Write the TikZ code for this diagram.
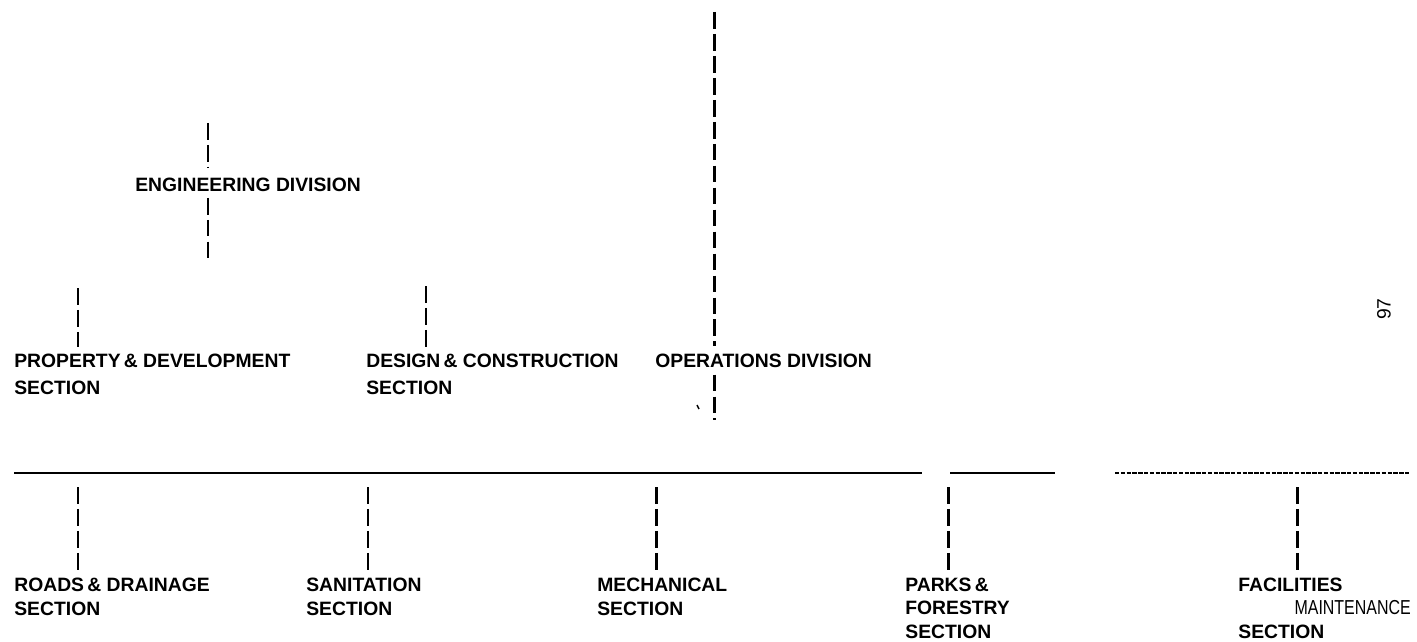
\documentclass[tikz,border=0pt]{standalone}
\usepackage{fontspec}
\usepackage{graphicx}
\setmainfont{Liberation Sans}
\begin{document}
\begin{tikzpicture}[x=0.02cm,y=-0.02cm,
  lbl/.style={inner sep=0pt, anchor=base west, font=\fontsize{11}{15.9}\selectfont\bfseries},
  lbls/.style={inner sep=0pt, anchor=base west, font=\fontsize{11}{14.2}\selectfont\bfseries},
  lblp/.style={inner sep=0pt, anchor=base west, font=\fontsize{11}{13.4}\selectfont\bfseries},
  conn/.style={line width=1.7pt, dash pattern=on 9.5pt off 3pt},
  hline/.style={line width=1pt},
  hdash/.style={line width=0.9pt, dash pattern=on 2.5pt off 0.8pt},
  pagenum/.style={inner sep=0pt, rotate=90, font=\fontsize{11}{13}\selectfont}]
\useasboundingbox (0,0) rectangle (1417,642);

% division labels
\node[lbl] (eng) at (135,192) {ENGINEERING DIVISION};
\node[lbl] (ops) at (655,367) {OPERATIONS DIVISION};
% engineering sections
\node[lbl] (prop) at (14,367) {\begin{tabular}[t]{@{}l@{}}PROPERTY\,\& DEVELOPMENT\\SECTION\end{tabular}};
\node[lbl] (des) at (366,367) {\begin{tabular}[t]{@{}l@{}}DESIGN\,\& CONSTRUCTION\\SECTION\end{tabular}};
% operations sections
\node[lbls] (road) at (14,591) {\begin{tabular}[t]{@{}l@{}}ROADS\,\& DRAINAGE\\SECTION\end{tabular}};
\node[lbls] (san) at (306,591) {\begin{tabular}[t]{@{}l@{}}SANITATION\\SECTION\end{tabular}};
\node[lbls] (mech) at (597,591) {\begin{tabular}[t]{@{}l@{}}MECHANICAL\\SECTION\end{tabular}};
\node[lblp] (park) at (905,591) {\begin{tabular}[t]{@{}l@{}}PARKS\,\&\\FORESTRY\\SECTION\end{tabular}};
\node[lblp] (fac) at (1238,591) {\begin{tabular}[t]{@{}l@{}}FACILITIES\\\hspace*{32pt}{\mdseries\fontsize{11.5}{13.4}\selectfont\scalebox{0.79}[1]{MAINTENANCE}}\\SECTION\end{tabular}};
\node[pagenum] (pg) at (1384,309) {97};

% coordinates for connector ends
\coordinate (engT) at (208,123);
\coordinate (engB) at (208,260);
\coordinate (opsT) at (714,12);
\coordinate (opsB) at (714,420);
\coordinate (propT) at (78,288);
\coordinate (desT) at (426,286);
\coordinate (roadT) at (78,487);
\coordinate (sanT) at (368,487);
\coordinate (mechT) at (656,487);
\coordinate (parkT) at (948,487);
\coordinate (facT) at (1297,487);
\coordinate (h1a) at (14,473);
\coordinate (h1b) at (922,473);
\coordinate (h2a) at (950,473);
\coordinate (h2b) at (1055,473);
\coordinate (h3a) at (1115,473);
\coordinate (h3b) at (1410,473);
\coordinate (tickA) at (697,405);
\coordinate (tickB) at (699,409);

% connectors
\draw[conn, shorten >=6pt] (engT) -- (engT |- eng.north);
\draw[conn, shorten <=3pt] (engT |- eng.south) -- (engB);
\draw[conn, shorten >=4pt] (opsT) -- (opsT |- ops.north);
\draw[conn, shorten <=4pt] (opsT |- ops.south) -- (opsB);
\draw[conn] (propT) -- (propT |- prop.north);
\draw[conn] (desT) -- (desT |- des.north);
\draw[conn] (roadT) -- (roadT |- road.north);
\draw[conn] (sanT) -- (sanT |- san.north);
\draw[conn] (mechT) -- (mechT |- mech.north);
\draw[conn] (parkT) -- (parkT |- park.north);
\draw[conn] (facT) -- (facT |- fac.north);
\draw[hline] (h1a) -- (h1b);
\draw[hline] (h2a) -- (h2b);
\draw[hdash] (h3a) -- (h3b);
\draw[line width=0.8pt] (tickA) -- (tickB);
\end{tikzpicture}
\end{document}
